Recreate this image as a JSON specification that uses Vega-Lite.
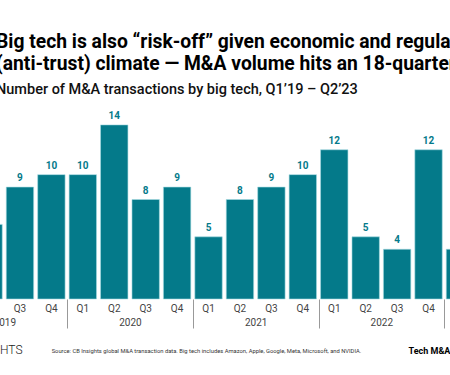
{
  "$schema": "https://vega.github.io/schema/vega-lite/v6.json",
  "width": 450,
  "height": 199,
  "autosize": "none",
  "padding": {"left": 0, "top": 100, "right": 0, "bottom": 76},
  "config": {"font": "Roboto", "view": {"stroke": null}},
  "title": {
    "text": ["Big tech is also “risk-off” given economic and regulatory", "(anti-trust) climate — M&A volume hits an 18-quarter low"],
    "subtitle": "Number of M&A transactions by big tech, Q1’19 – Q2’23",
    "anchor": "start",
    "frame": "group",
    "fontSize": 19.3,
    "fontWeight": "bold",
    "color": "#000000",
    "lineHeight": 22,
    "subtitleFontSize": 14.5,
    "subtitleFontWeight": 500,
    "subtitleColor": "#111111",
    "subtitlePadding": 8,
    "offset": 4,
    "dx": -4
  },
  "layer": [
    {
      "data": {"values": [
        {"quarter": "2019 Q1", "deals": 7},
        {"quarter": "2019 Q2", "deals": 6},
        {"quarter": "2019 Q3", "deals": 9},
        {"quarter": "2019 Q4", "deals": 10},
        {"quarter": "2020 Q1", "deals": 10},
        {"quarter": "2020 Q2", "deals": 14},
        {"quarter": "2020 Q3", "deals": 8},
        {"quarter": "2020 Q4", "deals": 9},
        {"quarter": "2021 Q1", "deals": 5},
        {"quarter": "2021 Q2", "deals": 8},
        {"quarter": "2021 Q3", "deals": 9},
        {"quarter": "2021 Q4", "deals": 10},
        {"quarter": "2022 Q1", "deals": 12},
        {"quarter": "2022 Q2", "deals": 5},
        {"quarter": "2022 Q3", "deals": 4},
        {"quarter": "2022 Q4", "deals": 12},
        {"quarter": "2023 Q1", "deals": 4},
        {"quarter": "2023 Q2", "deals": 3}
      ]},
      "encoding": {
        "x": {
          "field": "quarter", "type": "nominal", "sort": null,
          "scale": {"range": [-56.6, 505.1], "paddingInner": 0.128, "paddingOuter": 0},
          "axis": {
            "orient": "bottom",
            "title": "Source: CB Insights global M&A transaction data. Big tech includes Amazon, Apple, Google, Meta, Microsoft, and NVIDIA.",
            "titleFontSize": 5.8,
            "titleFontWeight": "normal",
            "titleColor": "#333333",
            "titleX": 206,
            "titleY": 51,
            "titleAlign": "center",
            "titleBaseline": "middle",
            "labelExpr": "split(datum.value, ' ')[1]",
            "labelAngle": 0,
            "labelFontSize": 10,
            "labelColor": "#444444",
            "labelPadding": 4,
            "ticks": false,
            "domain": false
          }
        },
        "y": {
          "field": "deals", "type": "quantitative",
          "scale": {"domain": [0, 16]},
          "axis": {
            "title": "CB INSIGHTS",
            "titleAngle": 0,
            "titleX": 22,
            "titleY": 249,
            "titleAlign": "right",
            "titleBaseline": "middle",
            "titleFontSize": 12,
            "titleFontWeight": 300,
            "titleColor": "#222222",
            "labels": false,
            "ticks": false,
            "domain": false,
            "grid": false
          }
        }
      },
      "layer": [
        {"mark": {"type": "bar", "color": "#047a8a", "stroke": "#a8dbe2", "strokeWidth": 0.6}},
        {"mark": {"type": "text", "baseline": "bottom", "dy": -4, "fontSize": 10, "fontWeight": "bold", "color": "#047a8a"},
         "encoding": {"text": {"field": "deals", "type": "quantitative"}}}
      ]
    },
    {
      "data": {"values": [{"year": "2019"}, {"year": "2020"}, {"year": "2021"}, {"year": "2022"}, {"year": "2023"}]},
      "mark": {"type": "text"},
      "encoding": {
        "x": {
          "field": "year", "type": "nominal",
          "scale": {"range": [-58.6, 569.9], "paddingInner": 0, "paddingOuter": 0},
          "axis": {
            "orient": "bottom",
            "title": "Tech M&A Report",
            "titleFontSize": 9,
            "titleFontWeight": "bold",
            "titleColor": "#000000",
            "titleX": 408,
            "titleY": 51,
            "titleAlign": "left",
            "titleBaseline": "middle",
            "tickBand": "extent",
            "tickSize": 29,
            "tickColor": "#999999",
            "tickWidth": 1,
            "labelPadding": -11,
            "labelFontSize": 10,
            "labelColor": "#444444",
            "labelAngle": 0,
            "domain": false
          }
        },
        "text": {"value": ""}
      }
    }
  ],
  "resolve": {"scale": {"x": "independent"}, "axis": {"x": "independent"}}
}
